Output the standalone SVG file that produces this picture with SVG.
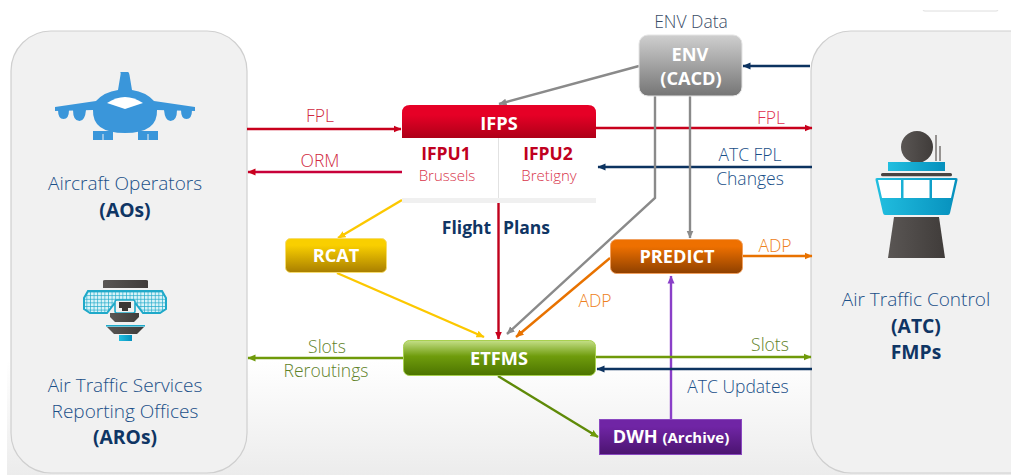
<svg xmlns="http://www.w3.org/2000/svg" width="1011" height="475" viewBox="0 0 1011 475">
<defs>
<linearGradient id="gBg" x1="0" y1="0" x2="0" y2="1"><stop offset="0" stop-color="#fff"/><stop offset="1" stop-color="#ececec"/></linearGradient>
<linearGradient id="gRed" x1="0" y1="0" x2="0" y2="1"><stop offset="0.3" stop-color="#e60026"/><stop offset="1" stop-color="#ae0018"/></linearGradient>
<linearGradient id="gGray" x1="0" y1="0" x2="0" y2="1"><stop offset="0" stop-color="#cfcfcf"/><stop offset="1" stop-color="#757575"/></linearGradient>
<linearGradient id="gYel" x1="0" y1="0" x2="0" y2="1"><stop offset="0.2" stop-color="#f9cf00"/><stop offset="1" stop-color="#a87e00"/></linearGradient>
<linearGradient id="gOra" x1="0" y1="0" x2="0" y2="1"><stop offset="0.2" stop-color="#ee7000"/><stop offset="1" stop-color="#8e4000"/></linearGradient>
<linearGradient id="gGrn" x1="0" y1="0" x2="0" y2="1"><stop offset="0" stop-color="#c4df88"/><stop offset="0.45" stop-color="#6f9c0c"/><stop offset="1" stop-color="#4c7400"/></linearGradient>
<linearGradient id="gPur" x1="0" y1="0" x2="0" y2="1"><stop offset="0.2" stop-color="#7025a5"/><stop offset="1" stop-color="#4b1470"/></linearGradient>
<linearGradient id="gCy" x1="0" y1="0" x2="1" y2="0"><stop offset="0" stop-color="#22bfe0"/><stop offset="1" stop-color="#0690bd"/></linearGradient>
<linearGradient id="gDk" x1="0" y1="0" x2="1" y2="0"><stop offset="0" stop-color="#5a5654"/><stop offset="1" stop-color="#403c3a"/></linearGradient>
<pattern id="grid" width="3.6" height="3.6" patternUnits="userSpaceOnUse"><rect width="3.6" height="3.6" fill="#d8f3f8"/><path d="M0 0H3.6M0 0V3.6" stroke="#1fa9c9" stroke-width="1.3"/></pattern>
<marker id="mRed" markerWidth="9" markerHeight="8" refX="7.5" refY="4" orient="auto" markerUnits="userSpaceOnUse"><path d="M0 0.5L8 4L0 7.5z" fill="#c8001c"/></marker>
<marker id="mNav" markerWidth="9" markerHeight="8" refX="7.5" refY="4" orient="auto" markerUnits="userSpaceOnUse"><path d="M0 0.5L8 4L0 7.5z" fill="#0c3360"/></marker>
<marker id="mGry" markerWidth="9" markerHeight="8" refX="7.5" refY="4" orient="auto" markerUnits="userSpaceOnUse"><path d="M0 0.5L8 4L0 7.5z" fill="#8a8a8a"/></marker>
<marker id="mYel" markerWidth="9" markerHeight="8" refX="7.5" refY="4" orient="auto" markerUnits="userSpaceOnUse"><path d="M0 0.5L8 4L0 7.5z" fill="#fcc800"/></marker>
<marker id="mOra" markerWidth="9" markerHeight="8" refX="7.5" refY="4" orient="auto" markerUnits="userSpaceOnUse"><path d="M0 0.5L8 4L0 7.5z" fill="#e87200"/></marker>
<marker id="mGrn" markerWidth="9" markerHeight="8" refX="7.5" refY="4" orient="auto" markerUnits="userSpaceOnUse"><path d="M0 0.5L8 4L0 7.5z" fill="#6f9a0a"/></marker>
<marker id="mPur" markerWidth="9" markerHeight="8" refX="7.5" refY="4" orient="auto" markerUnits="userSpaceOnUse"><path d="M0 0.5L8 4L0 7.5z" fill="#8a3fc8"/></marker>
</defs>
<style>
text{font-family:"Open Sans","Noto Sans","Liberation Sans",sans-serif;text-anchor:middle}
.panel{fill:#f1f1f1;stroke:#cfcfcf;stroke-width:1.2}
.t{font-size:19px;font-weight:300;fill:#1a4f88}
.b{font-size:19.3px;font-weight:700;fill:#0f3564}
.w{font-weight:700;fill:#fff;font-size:18.2px}
.l{font-size:17.5px;font-weight:300}
.c{fill:none;stroke-width:2.4}
.p{font-size:17.500px;font-weight:700;fill:#c00020}
.s{font-size:15px;font-weight:300;fill:#d8344a}
.f{font-size:17.500px;font-weight:700;fill:#0f3564}
</style>
<rect x="7" y="360" width="1004" height="115" fill="url(#gBg)"/>
<path d="M923 10Q923 11 925 11H996Q998 11 998 10" fill="none" stroke="#dedede"/>

<g id="node-aos">
<path class="panel" d="M51 473A40 40 0 0 1 11 433V71A40 40 0 0 1 51 31H207A40 40 0 0 1 247 71V433A40 40 0 0 1 207 473Z"/>
<g fill="#3a96da">
<path d="M120 72H128Q129 72 129.500 75L132 90Q146 92 154 101L195 107V111L157 110Q158 133 125 133Q92 133 93 110L55 111V107L96 101Q104 92 118 90L120.500 75Q121 72 120 72Z"/>
<path d="M58 110H69Q69 119 63.500 119Q58 119 58 110ZM73 110H86Q85 121 79.500 121Q73 121 73 110ZM164 110H177Q177 121 170.500 121Q165 121 164 110ZM181 110H192Q192 119 186.500 119Q181 119 181 110Z"/>
<path d="M93 131H113V140H93ZM138 131H158V140H138Z"/>
</g>
<path d="M107 103Q125 91 143 103L125 109Z" fill="#fff"/>
<path d="M103 134V140M148 134V140" stroke="#f1f1f1" stroke-width="1"/>
<text class="t" x="125" y="190">Aircraft Operators</text>
<text class="b" x="125" y="217">(AOs)</text>
</g>

<g id="node-aros">
<path d="M103 281Q103 280 105 280H146Q148 280 148 281V288H103Z" fill="url(#gDk)"/>
<path d="M88 291H162L166 298V309L160 313H143L136 304H114L107 313H90L84 309V298Z" fill="url(#grid)" stroke="#1fa9c9" stroke-width="2"/>
<path d="M117 300H133Q135 300 135 302V311Q135 313 133 313H117Q115 313 115 311V302Q115 300 117 300Z" fill="#f1f1f1" stroke="#1fa9c9" stroke-width="1.600"/>
<path d="M119 302H131V308H128V311H122V308H119Z" fill="#3a3634"/>
<path d="M110 313H139V317L134 322H115L110 317Z" fill="url(#gDk)"/>
<rect x="106" y="325" width="39" height="1.6" fill="#1fa9c9"/>
<path d="M107 327H144L137 334H114Z" fill="url(#gDk)"/>
<rect x="119" y="335" width="13" height="6" fill="url(#gCy)"/>
<text class="t" x="125" y="392">Air Traffic Services</text>
<text class="t" x="125" y="418">Reporting Offices</text>
<text class="b" x="125" y="444">(AROs)</text>
</g>

<g id="node-atc">
<path class="panel" d="M1011 31H851A40 40 0 0 0 811 71V433A40 40 0 0 0 851 473H1011"/>
<circle cx="917" cy="147" r="16" fill="url(#gDk)"/>
<path d="M936 135V161M940 146V161" stroke="#807c7a" stroke-width="1.6"/>
<rect x="888" y="162" width="57" height="9" fill="url(#gCy)"/>
<rect x="881" y="173" width="71" height="3.2" rx="1.5" fill="#484442"/>
<path d="M877 178H956Q958 178 957.500 180L950 213Q949.500 215 948 215H885Q883.500 215 883 213L875.500 180Q875 178 877 178Z" fill="url(#gCy)"/>
<path d="M878 180H901V198H882ZM903.500 180H929.500V198H903.500ZM932 180H955L951 198H932Z" fill="#fff"/>
<path d="M894 217H939L945 258H888Z" fill="url(#gDk)"/>
<text class="t" x="916" y="306">Air Traffic Control</text>
<text class="b" x="916" y="333">(ATC)</text>
<text class="b" x="916" y="359">FMPs</text>
</g>

<g id="connectors">
<path class="c" d="M247 129H401" stroke="#c8001c" marker-end="url(#mRed)"/>
<path class="c" d="M402 172H248" stroke="#c8003a" marker-end="url(#mRed)"/>
<path class="c" d="M596 128H812" stroke="#c8001c" marker-end="url(#mRed)"/>
<path class="c" d="M812 167H598" stroke="#0c3360" marker-end="url(#mNav)"/>
<path class="c" d="M810 66H743" stroke="#0c3360" marker-end="url(#mNav)"/>
<path class="c" d="M639 66L499 104" stroke="#8a8a8a" marker-end="url(#mGry)"/>
<path class="c" d="M655 96V198L507 334" stroke="#8a8a8a" marker-end="url(#mGry)"/>
<path class="c" d="M690 96V238" stroke="#8a8a8a" marker-end="url(#mGry)"/>
<path class="c" d="M402 200L338 238" stroke="#fcc800" marker-end="url(#mYel)"/>
<path class="c" d="M337 273L484 337" stroke="#fcc800" marker-end="url(#mYel)"/>
<path class="c" d="M498.500 203V339" stroke="#c0001c" marker-end="url(#mRed)"/>
<path class="c" d="M610 258L516 337" stroke="#e87200" marker-end="url(#mOra)"/>
<path class="c" d="M743 256H812" stroke="#e87200" marker-end="url(#mOra)"/>
<path class="c" d="M671 419V276" stroke="#8a3fc8" marker-end="url(#mPur)"/>
<path class="c" d="M403 358H248" stroke="#6f9a0a" marker-end="url(#mGrn)"/>
<path class="c" d="M596 357H811" stroke="#6f9a0a" marker-end="url(#mGrn)"/>
<path class="c" d="M812 369H597" stroke="#0c3360" marker-end="url(#mNav)"/>
<path class="c" d="M498 376L598 437" stroke="#5f8a08" marker-end="url(#mGrn)"/>
<text class="l" x="320" y="122" fill="#d02840">FPL</text>
<text class="l" x="320" y="167" fill="#d02840">ORM</text>
<text class="l" x="771" y="124" fill="#e03050">FPL</text>
<text class="l" x="750" y="161" fill="#1a4f88">ATC FPL</text>
<text class="l" x="750" y="185" fill="#1a4f88">Changes</text>
<text class="l" x="691" y="28" fill="#3a4c66">ENV Data</text>
<text class="l" x="775" y="252" fill="#ee8020">ADP</text>
<text class="l" x="595" y="307" fill="#ee8020">ADP</text>
<text class="l" x="327" y="353" fill="#5f8228">Slots</text>
<text class="l" x="326" y="377" fill="#5f8228">Reroutings</text>
<text class="l" x="770" y="351" fill="#5f8228">Slots</text>
<text class="l" x="738" y="393" fill="#1a4f88">ATC Updates</text>
<text class="f" x="466.500" y="234">Flight</text>
<text class="f" x="526.500" y="234">Plans</text>
</g>

<g id="node-ifps">
<rect x="402" y="138" width="194" height="62" fill="#fff"/>
<path d="M402 138V113Q402 105 410 105H588Q596 105 596 113V138Z" fill="url(#gRed)"/>
<path d="M498.500 138V198" stroke="#e2e2e2"/>
<rect x="402" y="198" width="194" height="5" fill="#f0f0f0"/>
<text class="w" x="499" y="130">IFPS</text>
<text class="p" x="446" y="160">IFPU1</text>
<text class="p" x="548" y="160">IFPU2</text>
<text class="s" x="447" y="181">Brussels</text>
<text class="s" x="549" y="181">Bretigny</text>
</g>

<g id="node-env">
<rect x="639" y="35" width="103" height="61" rx="9" fill="url(#gGray)" stroke="#e4e4e4"/>
<text class="w" x="690" y="61">ENV</text>
<text class="w" x="691" y="85">(CACD)</text>
</g>

<g id="node-rcat">
<rect x="285.500" y="238.500" width="101" height="34" rx="5" fill="url(#gYel)" stroke="#f6dc70"/>
<text class="w" x="336" y="262">RCAT</text>
</g>

<g id="node-predict">
<rect x="610.500" y="239.500" width="132" height="34" rx="6" fill="url(#gOra)" stroke="#f0a060"/>
<text class="w" x="677" y="263">PREDICT</text>
</g>

<g id="node-etfms">
<rect x="403.500" y="340.500" width="192" height="35" rx="6" fill="url(#gGrn)" stroke="#a8d050"/>
<text class="w" x="499" y="365">ETFMS</text>
</g>

<g id="node-dwh">
<rect x="599.500" y="419.500" width="142" height="35" fill="url(#gPur)" stroke="#8a48c0"/>
<text x="671" y="443" class="w">DWH <tspan style="font-size:15px">(Archive)</tspan></text>
</g>
</svg>
